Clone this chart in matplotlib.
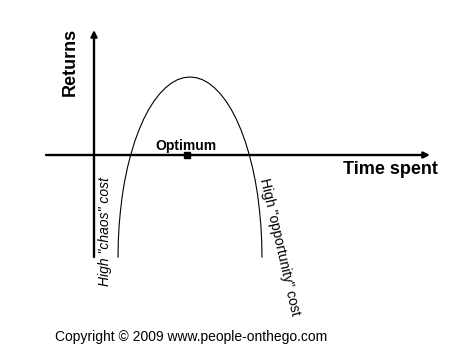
import matplotlib.pyplot as plt

plt.rcParams['font.family'] = ['Liberation Sans', 'DejaVu Sans']

# returns curve (x = time spent, y = returns)
curve_x = [24.0, 24.3, 25.1, 26.5, 28.3, 30.7, 33.6, 37.0, 40.8, 45.1, 49.7,
           54.7, 60.0, 65.6, 71.4, 77.4, 83.5, 89.7, 96.0,
           102.3, 108.5, 114.6, 120.6, 126.4, 132.0, 137.3, 142.3, 146.9,
           151.2, 155.0, 158.4, 161.3, 163.7, 165.5, 166.9, 167.7, 168.0]
curve_y = [-102.0, -86.3, -70.8, -55.4, -40.4, -25.9, -12.0, 1.2, 13.7, 25.3,
           35.9, 45.5, 53.9, 61.1, 67.1, 71.9, 75.3, 77.3, 78.0,
           77.3, 75.3, 71.9, 67.1, 61.1, 53.9, 45.5, 35.9, 25.3,
           13.7, 1.2, -12.0, -25.9, -40.4, -55.4, -70.8, -86.3, -102.0]

optimum_x = [93]
optimum_y = [0]

fig = plt.figure(figsize=(4.74, 3.57), dpi=100)
ax = fig.add_axes([0, 0, 1, 1])
ax.set_xlim(-94, 380)
ax.set_ylim(-202, 155)
ax.axis('off')

# axes with arrow heads
arrow = dict(arrowstyle='-|>', color='black', lw=1.7, mutation_scale=9,
             shrinkA=0, shrinkB=0)
ax.annotate('', xy=(0, 125), xytext=(0, -102), arrowprops=arrow)
ax.annotate('', xy=(336, 0), xytext=(-48, 0), arrowprops=arrow)

ax.plot(curve_x, curve_y, color='black', lw=0.8)
ax.plot(optimum_x, optimum_y, marker='s', color='black', markersize=5,
        linestyle='none')

ax.text(-24, 93, 'Returns', rotation=90, fontsize=13, fontweight='bold',
        ha='center', va='center')
ax.text(296, -15, 'Time spent', fontsize=13, fontweight='bold',
        ha='center', va='center')
ax.text(92, 9, 'Optimum', fontsize=10, fontweight='bold',
        ha='center', va='center')
ax.text(11, -77, 'High "chaos" cost', rotation=90, fontsize=10,
        style='italic', ha='center', va='center')
ax.text(186, -92, 'High "opportunity" cost', rotation=-77, fontsize=10,
        ha='center', va='center', rotation_mode='anchor')
ax.text(-39, -182, 'Copyright \u00a9 2009 www.people-onthego.com', fontsize=10,
        ha='left', va='center')

fig.savefig('out.png', dpi=100)
